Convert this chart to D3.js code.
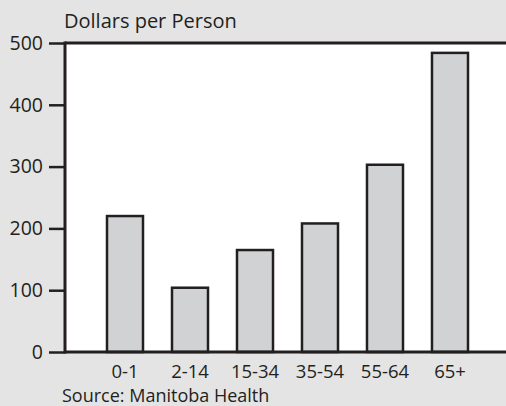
<!DOCTYPE html>
<html>
<head>
<meta charset="utf-8">
<script src="https://cdn.jsdelivr.net/npm/d3@7"></script>
<style>
  html, body { margin: 0; padding: 0; background: #e4e4e4; }
  svg { display: block; }
  text { font-family: "Open Sans", "Noto Sans", sans-serif; fill: #231f20; }
</style>
</head>
<body>
<svg id="chart" width="506" height="406"></svg>
<script>
// Per-capita spending by age group
const ageGroups = ["0-1", "2-14", "15-34", "35-54", "55-64", "65+"];
const dollarsPerPerson = [220, 104, 165, 208, 303, 484];
const yTicks = [0, 100, 200, 300, 400, 500];
const yTitle = "Dollars per Person";
const sourceNote = "Source: Manitoba Health";

const svg = d3.select("#chart");
const W = 506, H = 406;
const plot = { left: 65, top: 43, right: 506, bottom: 352 };
const ink = "#231f20";

svg.append("rect").attr("width", W).attr("height", H).attr("fill", "#e4e4e4");

const x = d3.scaleBand()
  .domain(ageGroups)
  .range([74.5, 500.5])
  .paddingInner(0.446)
  .paddingOuter(0.5);

const y = d3.scaleLinear().domain([0, 500]).range([plot.bottom, plot.top]);

// white plotting area
svg.append("rect")
  .attr("x", plot.left).attr("y", plot.top)
  .attr("width", plot.right - plot.left + 2)
  .attr("height", plot.bottom - plot.top)
  .attr("fill", "#ffffff");

// bars
svg.append("g").selectAll("rect")
  .data(ageGroups.map((g, i) => ({ g, v: dollarsPerPerson[i] })))
  .join("rect")
  .attr("x", d => x(d.g))
  .attr("y", d => y(d.v))
  .attr("width", x.bandwidth())
  .attr("height", d => y(0) - y(d.v))
  .attr("fill", "#d1d2d4")
  .attr("stroke", ink)
  .attr("stroke-width", 2.5);

// y axis with outward ticks
const yAxis = d3.axisLeft(y).tickValues(yTicks).tickSize(16).tickPadding(6);
const gy = svg.append("g").attr("transform", `translate(${plot.left},0)`).call(yAxis);
gy.select(".domain").remove();
gy.selectAll(".tick line").attr("stroke", ink).attr("stroke-width", 2.5);
gy.selectAll(".tick text")
  .attr("font-size", 19.5)
  .attr("fill", ink)
  .style("font-family", '"Open Sans", sans-serif');

// frame lines: top, left, bottom
svg.append("line")
  .attr("x1", plot.left).attr("x2", W + 2)
  .attr("y1", plot.top).attr("y2", plot.top)
  .attr("stroke", ink).attr("stroke-width", 3);
svg.append("line")
  .attr("x1", plot.left).attr("x2", plot.left)
  .attr("y1", plot.top - 1.5).attr("y2", plot.bottom + 1.5)
  .attr("stroke", ink).attr("stroke-width", 3);
svg.append("line")
  .attr("x1", plot.left).attr("x2", W + 2)
  .attr("y1", plot.bottom).attr("y2", plot.bottom)
  .attr("stroke", ink).attr("stroke-width", 3);

// category labels
const xAxis = d3.axisBottom(x).tickSize(0).tickPadding(0);
const gx = svg.append("g").attr("transform", `translate(0,${plot.bottom})`).call(xAxis);
gx.select(".domain").remove();
gx.selectAll(".tick text")
  .attr("y", 26)
  .attr("dy", 0)
  .attr("font-size", 18.5)
  .attr("fill", ink)
  .style("font-family", '"Open Sans", sans-serif');

// axis title and source
svg.append("text")
  .attr("x", 64).attr("y", 28)
  .attr("font-size", 20)
  .text(yTitle);

svg.append("text")
  .attr("x", 62).attr("y", 402)
  .attr("font-size", 18)
  .text(sourceNote);
</script>
</body>
</html>
